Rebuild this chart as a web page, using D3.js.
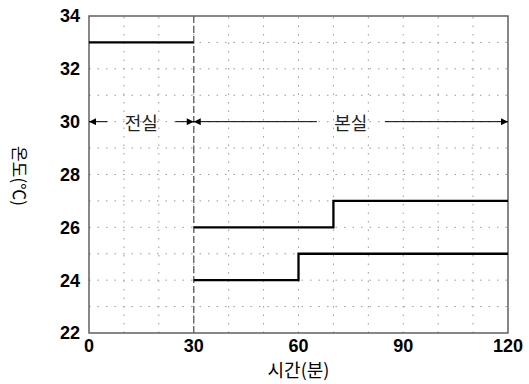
<!DOCTYPE html>
<html>
<head>
<meta charset="utf-8">
<script src="https://cdn.jsdelivr.net/npm/d3@7/dist/d3.min.js"></script>
<style>
  body { margin: 0; background: #fff; }
  svg { display: block; }
</style>
</head>
<body>
<svg id="chart"></svg>
<script>
const width = 529;
const height = 384;

// axis ticks
const xTicks = [0, 30, 60, 90, 120];
const yTicks = [22, 24, 26, 28, 30, 32, 34];

// step lines: [minute, temperature] pairs
const anteroom = [[0, 33], [30, 33]];
const upperLine = [[30, 26], [70, 26], [70, 27], [120, 27]];
const lowerLine = [[30, 24], [60, 24], [60, 25], [120, 25]];

// room spans shown with arrows at 30 degrees
const rooms = [
    { name: "전실", from: 0, to: 30 },
    { name: "본실", from: 30, to: 120 }
];
const arrowTemp = 30;
const divider = 30;

const margin = { top: 16, right: 21, bottom: 51, left: 89 };

const svg = d3.select("#chart")
    .attr("width", width)
    .attr("height", height);

const x = d3.scaleLinear().domain([0, 120]).range([margin.left, width - margin.right]);
const y = d3.scaleLinear().domain([22, 34]).range([height - margin.bottom, margin.top]);

const defs = svg.append("defs");
defs.append("marker")
    .attr("id", "arrow")
    .attr("viewBox", "0 0 10 10")
    .attr("refX", 10)
    .attr("refY", 5)
    .attr("markerWidth", 11)
    .attr("markerHeight", 7)
    .attr("markerUnits", "userSpaceOnUse")
    .attr("orient", "auto-start-reverse")
    .append("path")
    .attr("d", "M0,0L10,5L0,10Z")
    .attr("fill", "#000");

// dotted grid
const grid = svg.append("g");
grid.selectAll(".vg")
    .data(d3.range(10, 120, 10))
    .enter().append("line")
    .attr("x1", d => x(d)).attr("x2", d => x(d))
    .attr("y1", y(22)).attr("y2", y(34))
    .attr("stroke", "#999")
    .attr("stroke-width", 1)
    .attr("stroke-dasharray", "1.5,7");
grid.selectAll(".hg")
    .data(d3.range(23, 34, 1))
    .enter().append("line")
    .attr("x1", x(0)).attr("x2", x(120))
    .attr("y1", d => y(d)).attr("y2", d => y(d))
    .attr("stroke", "#999")
    .attr("stroke-width", 1)
    .attr("stroke-dasharray", "1.5,7");

// frame
svg.append("rect")
    .attr("x", x(0)).attr("y", y(34))
    .attr("width", x(120) - x(0))
    .attr("height", y(22) - y(34))
    .attr("fill", "none")
    .attr("stroke", "#555")
    .attr("stroke-width", 1.4);

// divider between rooms
svg.append("line")
    .attr("x1", x(divider)).attr("x2", x(divider))
    .attr("y1", y(22)).attr("y2", y(34))
    .attr("stroke", "#666")
    .attr("stroke-width", 1.4)
    .attr("stroke-dasharray", "7,3");

// data lines
const line = d3.line().x(d => x(d[0])).y(d => y(d[1]));
[anteroom, upperLine, lowerLine].forEach(s => {
    svg.append("path")
        .attr("d", line(s))
        .attr("fill", "none")
        .attr("stroke", "#000")
        .attr("stroke-width", 2.3);
});

// room arrows with labels
const font = "'Noto Sans CJK KR', sans-serif";
rooms.forEach(r => {
    const cx = (x(r.from) + x(r.to)) / 2;
    const gap = 34;
    const ay = y(arrowTemp);
    svg.append("line")
        .attr("x1", cx - gap).attr("x2", x(r.from))
        .attr("y1", ay).attr("y2", ay)
        .attr("stroke", "#000").attr("stroke-width", 1)
        .attr("marker-end", "url(#arrow)");
    svg.append("line")
        .attr("x1", cx + gap).attr("x2", x(r.to))
        .attr("y1", ay).attr("y2", ay)
        .attr("stroke", "#000").attr("stroke-width", 1)
        .attr("marker-end", "url(#arrow)");
    svg.append("text")
        .attr("x", cx).attr("y", ay)
        .attr("text-anchor", "middle")
        .attr("dominant-baseline", "central")
        .attr("font-family", font)
        .attr("font-size", 18)
        .attr("fill", "#222")
        .text(r.name);
});

// tick labels
svg.selectAll(".yt")
    .data(yTicks)
    .enter().append("text")
    .attr("x", x(0) - 9)
    .attr("y", d => y(d))
    .attr("dy", "0.36em")
    .attr("text-anchor", "end")
    .attr("font-family", "'Liberation Sans', Arial, sans-serif")
    .attr("font-weight", "bold")
    .attr("font-size", 18)
    .text(d => d);

svg.selectAll(".xt")
    .data(xTicks)
    .enter().append("text")
    .attr("x", d => x(d))
    .attr("y", y(22) + 19)
    .attr("text-anchor", "middle")
    .attr("font-family", "'Liberation Sans', Arial, sans-serif")
    .attr("font-weight", "bold")
    .attr("font-size", 18)
    .text(d => d);

// axis titles
svg.append("text")
    .attr("x", (x(0) + x(120)) / 2)
    .attr("y", 377)
    .attr("text-anchor", "middle")
    .attr("font-family", font)
    .attr("font-size", 18)
    .text("시간(분)");

svg.append("text")
    .attr("transform", "translate(13,176) rotate(90)")
    .attr("text-anchor", "middle")
    .attr("font-family", font)
    .attr("font-size", 17)
    .text("온도(℃)");
</script>
</body>
</html>
